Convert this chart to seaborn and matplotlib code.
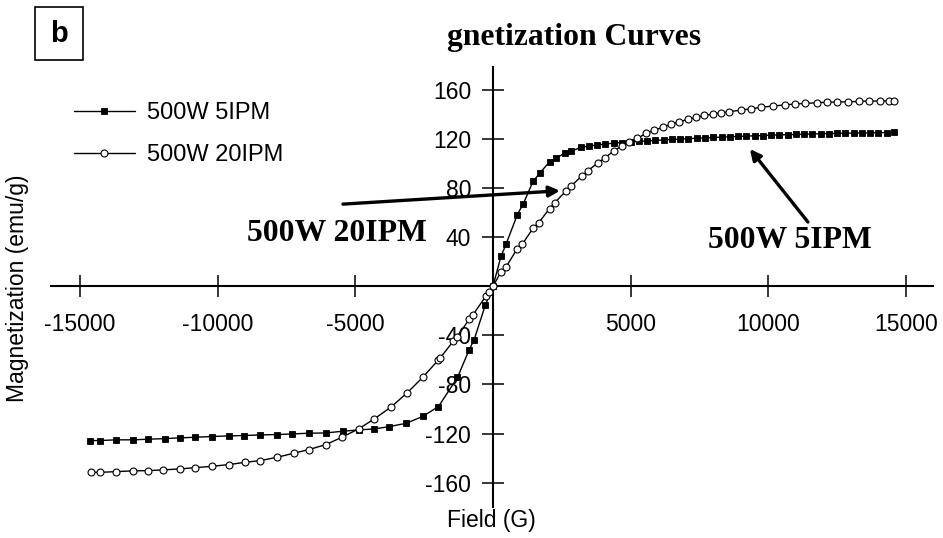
import matplotlib
matplotlib.use("Agg")
import matplotlib.pyplot as plt
import matplotlib.patches as mpatches
import numpy as np
import pandas as pd
import seaborn as sns

# ---------------- data ----------------
series_names = ["500W 5IPM", "500W 20IPM"]

field_5ipm = [-14648, -14282, -13676, -13067, -12520, -11910, -11362, -10815,
              -10210, -9600, -9052, -8443, -7836, -7290, -6680, -6070, -5464,
              -4855, -4307, -3760, -3150, -2550, -1980, -1288, -865, -683, -281,
              0, 292, 475, 887, 1106, 1460, 1690, 2055, 2289, 2628, 2847, 3186,
              3478, 3785, 4052, 4380, 4700, 5000, 5300, 5600, 5900, 6200, 6500,
              6800, 7100, 7400, 7700, 8000, 8300, 8600, 8900, 9200, 9500, 9800,
              10100, 10400, 10700, 11000, 11300, 11600, 11900, 12200, 12500,
              12800, 13100, 13400, 13700, 14000, 14300, 14550]
mag_5ipm = [-125.7, -125.7, -125.1, -125.1, -124.6, -124.1, -123.5, -123.0,
            -122.4, -121.9, -121.6, -121.1, -120.8, -120.3, -119.7, -119.5, -118.1,
            -117.0, -116.2, -114.3, -111.6, -106.0, -98.0, -74.3, -51.7, -43.5, -15.5,
            0.0, 24.5, 34.3, 58.5, 67.5, 85.7, 92.0, 101.5, 104.5, 108.8, 110.2, 113.2,
            114.3, 115.3, 115.9, 116.7, 117.2, 117.7, 118.1, 118.5, 118.9, 119.3, 119.7,
            120.0, 120.4, 120.7, 121.0, 121.3, 121.6, 121.9, 122.2, 122.4, 122.7, 122.9,
            123.2, 123.4, 123.6, 123.8, 124.0, 124.2, 124.4, 124.5, 124.7,
            124.8, 124.9, 125.0, 125.1, 125.2, 125.3, 125.4]

field_20ipm = [-14590, -14282, -13676, -13067, -12520, -11972, -11362, -10815,
               -10210, -9600, -8990, -8443, -7836, -7227, -6680, -6070, -5486,
               -4880, -4307, -3698, -3110, -2544, -1996, -1909, -1449, -1314, -865,
               -741, -255, -135, 0, 292, 475, 887, 1070, 1471, 1668, 2055, 2238,
               2653, 2836, 3223, 3442, 3807, 4052, 4391, 4680, 4940, 5245, 5548,
               5851, 6157, 6460, 6764, 7070, 7373, 7676, 7982, 8285, 8589, 9015,
               9380, 9745, 10172, 10596, 10961, 11326, 11753, 12118, 12483, 12910,
               13275, 13640, 14063, 14370, 14552]
mag_20ipm = [-151.6, -151.6, -151.0, -150.4, -150.2, -149.6, -148.8, -147.8,
             -146.7, -145.3, -143.4, -142.0, -139.3, -136.0, -133.0, -129.0, -123.0,
             -116.2, -108.0, -98.3, -86.7, -74.0, -60.4, -58.2, -44.9, -41.4, -27.0,
             -23.7, -7.9, -4.6, 0.0, 11.7, 15.8, 30.8, 34.5, 47.9, 52.0, 63.4, 68.0,
             77.8, 81.6, 90.0, 94.1, 100.6, 104.5, 110.4, 114.5, 117.8, 120.5, 124.6,
             127.3, 129.5, 132.0, 134.1, 136.0, 137.7, 139.3, 140.4, 141.5, 142.3, 143.7,
             144.7, 145.9, 147.0, 147.8, 148.6, 149.1, 149.6, 150.0, 150.2, 150.4,
             150.7, 151.0, 151.0, 151.3, 151.3]

x_ticks = [-15000, -10000, -5000, 5000, 10000, 15000]
x_tick_labels = ["-15000", "-10000", "-5000", "5000", "10000", "15000"]
y_ticks = [-160, -120, -80, -40, 40, 80, 120, 160]
y_tick_labels = ["-160", "-120", "-80", "-40", "40", "80", "120", "160"]

# ---------------- style ----------------
sns.set_style("white")
plt.rcParams['font.family'] = ['Liberation Sans', 'DejaVu Sans']
plt.rcParams['text.color'] = 'black'
plt.rcParams['axes.labelcolor'] = 'black'
plt.rcParams['xtick.color'] = 'black'
plt.rcParams['ytick.color'] = 'black'
SERIF = ['Liberation Serif', 'DejaVu Serif']

W, H = 943, 538
fig = plt.figure(figsize=(W / 100, H / 100), dpi=100)
ax_l, ax_r, ax_t, ax_b = 51, 933, 66.7, 506.7
ax = fig.add_axes([ax_l / W, 1 - ax_b / H, (ax_r - ax_l) / W, (ax_b - ax_t) / H])
ax.set_facecolor('white')

df5 = pd.DataFrame({"field": field_5ipm, "mag": mag_5ipm})
df20 = pd.DataFrame({"field": field_20ipm, "mag": mag_20ipm})

sns.lineplot(data=df5, x="field", y="mag", sort=False, ax=ax, color="black",
             linewidth=1.0, marker="s", markersize=4.8, markerfacecolor="black",
             markeredgecolor="black", markeredgewidth=0.6, label=series_names[0],
             zorder=4)
sns.lineplot(data=df20, x="field", y="mag", sort=False, ax=ax, color="black",
             linewidth=1.0, marker="o", markersize=5.0, markerfacecolor="white",
             markeredgecolor="black", markeredgewidth=0.8, label=series_names[1],
             zorder=5)

ax.set_xlim(-16050, 15980)
ax.set_ylim(-179.6, 179)

for s in ["top", "right"]:
    ax.spines[s].set_visible(False)
for s in ["left", "bottom"]:
    ax.spines[s].set_position("zero")
    ax.spines[s].set_linewidth(1.5)
    ax.spines[s].set_color("black")

ax.set_xticks(x_ticks)
ax.set_xticklabels(x_tick_labels)
ax.set_yticks(y_ticks)
ax.set_yticklabels(y_tick_labels)
ax.tick_params(axis="both", which="major", bottom=True, left=True,
               top=False, right=False, direction="inout", length=16, width=1.1,
               color="black", labelsize=16.5, labelcolor="black")
ax.tick_params(axis="x", pad=11)
ax.tick_params(axis="y", pad=7.8)
ax.set_xlabel("")
ax.set_ylabel("")
ax.grid(False)

# legend
ax.legend(loc="upper left", bbox_to_anchor=(74 / W, 1 - 102 / H),
          bbox_transform=fig.transFigure, frameon=False, fontsize=17,
          handlelength=2.57, handletextpad=0.52, labelspacing=0.85,
          borderpad=0, borderaxespad=0, numpoints=1, labelcolor="black")

# annotations
arrow_kw = dict(arrowstyle="-|>", lw=2.4, color="black", mutation_scale=16,
                shrinkA=0, shrinkB=0)
ax.annotate("", xy=(2433, 77.9), xytext=(-5447, 67), arrowprops=arrow_kw)
ax.annotate("", xy=(9332, 111.9), xytext=(11438, 52.4), arrowprops=arrow_kw)
ax.text(-8932, 37.1, "500W 20IPM", family=SERIF, fontweight="bold",
        fontsize=22.8, ha="left", va="baseline", color="black")
ax.text(7807, 31.2, "500W 5IPM", family=SERIF, fontweight="bold",
        fontsize=22.8, ha="left", va="baseline", color="black")

# title (cut-off as in the reference)
fig.text(446.7 / W, 1 - 45 / H, "gnetization Curves", family=SERIF,
         fontweight="bold", fontsize=22.8, ha="left", va="baseline", color="black")

# panel label box
fig.patches.append(mpatches.Rectangle((35 / W, 1 - 60 / H), 48 / W, 53 / H,
                                      transform=fig.transFigure, fill=False,
                                      edgecolor="black", linewidth=1.2))
fig.text(59 / W, 1 - 34 / H, "b", fontsize=21, fontweight="bold",
         ha="center", va="center", color="black")

# axis labels
fig.text(491 / W, 1 - 520 / H, "Field (G)", fontsize=16.5, ha="center",
         va="center", color="black")
fig.text(18 / W, 1 - 288 / H, "Magnetization (emu/g)", fontsize=16.5,
         ha="center", va="center", rotation=90, color="black")

fig.savefig("out.png", dpi=100, facecolor="white")
